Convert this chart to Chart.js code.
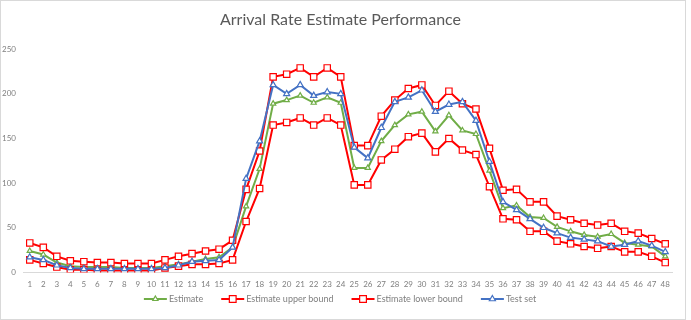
<!DOCTYPE html>
<html>
<head>
<meta charset="UTF-8">
<script src="https://cdn.jsdelivr.net/npm/chart.js@4.4.0/dist/chart.umd.min.js"></script>
<style>
  body { margin: 0; background: #fff; }
  .frame { position: absolute; left: 0; top: 0; width: 684px; height: 318px; border: 1px solid #d9d9d9; }
  #wrap { position: absolute; left: 0; top: 0; width: 691px; height: 320px; }
</style>
</head>
<body>
<div class="frame"></div>
<div id="wrap"><canvas id="rateChart"></canvas></div>
<script>
// Datos
const periods = [];
for (let i = 1; i <= 48; i++) periods.push(String(i));

const estimate = [24, 20, 11, 7, 6, 6, 6, 5, 5, 5, 7, 9, 12, 15, 17, 28, 74, 116, 189, 193, 198, 190, 196, 190,
  117, 117, 147, 165, 177, 180, 158, 176, 159, 155, 114, 72, 75, 62, 61, 51, 46, 42, 40, 43, 33, 31, 29, 18];
const upperBound = [33, 28, 18, 13, 12, 11, 11, 10, 10, 10, 14, 18, 21, 24, 26, 36, 93, 136, 219, 222, 229, 219, 229, 219,
  142, 142, 175, 193, 206, 210, 187, 203, 189, 183, 139, 92, 93, 79, 79, 63, 59, 55, 53, 55, 46, 44, 38, 32];
const lowerBound = [14, 10, 6, 3, 3, 2, 2, 2, 2, 2, 5, 7, 9, 9, 10, 14, 57, 94, 165, 168, 173, 165, 173, 165,
  98, 98, 126, 138, 152, 156, 135, 150, 137, 132, 96, 60, 59, 46, 46, 35, 32, 29, 27, 29, 23, 23, 18, 11];
const testSet = [17, 14, 8, 5, 4, 4, 4, 4, 4, 4, 5, 8, 12, 13, 14, 28, 105, 147, 210, 200, 210, 198, 202, 200,
  140, 128, 162, 191, 196, 204, 180, 188, 191, 170, 124, 79, 70, 60, 50, 44, 39, 37, 35, 29, 31, 35, 30, 23];
const yTicks = [0, 50, 100, 150, 200, 250];

const GREEN = '#70ad47';
const RED = '#ff0000';
const BLUE = '#4472c4';
const GREY = '#7f7f7f';

function serie(label, data, color, style, radius, order) {
  return {
    label: label,
    data: data,
    borderColor: color,
    backgroundColor: color,
    borderWidth: 2,
    pointStyle: style,
    pointRadius: radius,
    pointBorderWidth: 1.2,
    pointBorderColor: color,
    pointBackgroundColor: '#ffffff',
    tension: 0,
    order: order
  };
}

function marker(ctx, ds, x, y) {
  ctx.fillStyle = '#ffffff';
  ctx.strokeStyle = ds.borderColor;
  ctx.lineWidth = ds.pointBorderWidth;
  ctx.beginPath();
  if (ds.pointStyle === 'rect') {
    const r = ds.pointRadius * 0.75;
    ctx.rect(x - r, y - r, 2 * r, 2 * r);
  } else {
    const r = ds.pointRadius;
    ctx.moveTo(x, y - r);
    ctx.lineTo(x + r * 0.87, y + r * 0.5);
    ctx.lineTo(x - r * 0.87, y + r * 0.5);
    ctx.closePath();
  }
  ctx.fill();
  ctx.stroke();
}

// Leyenda estilo Excel: linea + marcador + texto
const excelLegend = {
  id: 'excelLegend',
  afterLayout(chart) {
    // centrar el titulo como en la imagen original
    if (chart.titleBlock) chart.titleBlock.left += 9;
  },
  afterDraw(chart) {
    const ctx = chart.ctx;
    const sets = chart.data.datasets;
    const lineW = 23, gapText = 2, gapItem = 18;
    ctx.save();
    ctx.font = '9px Lato';
    const widths = sets.map(ds => lineW + gapText + ctx.measureText(ds.label).width);
    const total = widths.reduce((a, b) => a + b, 0) + gapItem * (sets.length - 1);
    let x = 340 - total / 2;
    const y = 299;
    sets.forEach((ds, i) => {
      ctx.strokeStyle = ds.borderColor;
      ctx.lineWidth = 2;
      ctx.beginPath();
      ctx.moveTo(x, y);
      ctx.lineTo(x + lineW, y);
      ctx.stroke();
      marker(ctx, ds, x + lineW / 2, y);
      ctx.fillStyle = GREY;
      ctx.textBaseline = 'middle';
      ctx.textAlign = 'left';
      ctx.fillText(ds.label, x + lineW + gapText, y);
      x += widths[i] + gapItem;
    });
    ctx.restore();
  }
};

const ctx = document.getElementById('rateChart').getContext('2d');
new Chart(ctx, {
  type: 'line',
  data: {
    labels: periods,
    datasets: [
      serie('Estimate', estimate, GREEN, 'triangle', 3, 4),
      serie('Estimate upper bound', upperBound, RED, 'rect', 4.5, 3),
      serie('Estimate lower bound', lowerBound, RED, 'rect', 4.5, 2),
      serie('Test set', testSet, BLUE, 'triangle', 3.5, 1)
    ]
  },
  options: {
    responsive: true,
    maintainAspectRatio: false,
    animation: false,
    layout: { padding: { left: 0, right: 19, top: 4, bottom: 24 } },
    plugins: {
      title: {
        display: true,
        text: 'Arrival Rate Estimate Performance',
        color: '#595959',
        font: { family: 'Lato', size: 16, weight: 'normal' },
        padding: { top: 6, bottom: 20 }
      },
      legend: { display: false },
      tooltip: { enabled: false }
    },
    scales: {
      x: {
        offset: true,
        grid: { display: false, drawTicks: false },
        border: { color: '#d9d9d9' },
        ticks: {
          color: GREY,
          font: { family: 'Lato', size: 8 },
          autoSkip: false,
          maxRotation: 0,
          padding: 7
        }
      },
      y: {
        min: 0,
        max: 250,
        afterBuildTicks: (axis) => { axis.ticks = yTicks.map(v => ({ value: v })); },
        afterFit: (axis) => { axis.width = 23; },
        grid: { display: false, drawTicks: false },
        border: { display: false },
        ticks: {
          color: GREY,
          font: { family: 'Lato', size: 8 },
          padding: 7
        }
      }
    }
  },
  plugins: [excelLegend]
});
</script>
</body>
</html>
